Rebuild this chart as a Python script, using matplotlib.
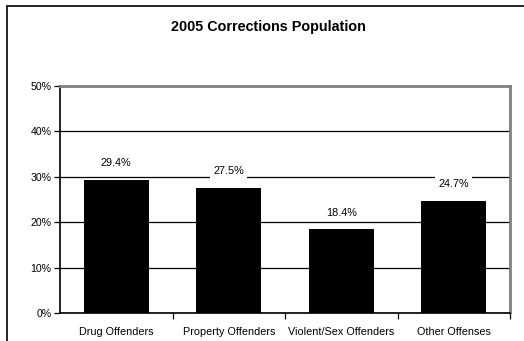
import matplotlib
matplotlib.use("Agg")
import matplotlib.pyplot as plt
from matplotlib.patches import Rectangle
from matplotlib.ticker import FixedLocator, NullFormatter

categories = ["Drug Offenders", "Property Offenders", "Violent/Sex Offenders", "Other Offenses"]
values = [29.4, 27.5, 18.4, 24.7]
value_labels = ["29.4%", "27.5%", "18.4%", "24.7%"]
yticks = [0, 10, 20, 30, 40, 50]
ytick_labels = ["0%", "10%", "20%", "30%", "40%", "50%"]
title = "2005 Corrections Population"

plt.rcParams['font.family'] = ['Liberation Sans', 'DejaVu Sans']

W, H = 524, 341
fig = plt.figure(figsize=(W/100, H/100), dpi=100)
fig.patch.set_facecolor('white')

# outer chart border (extends beyond the right/bottom edge)
fig.patches.append(Rectangle((6.5/W, -0.1), 1.2, (H - 5.5)/H + 0.1, transform=fig.transFigure,
                             fill=False, edgecolor='black', linewidth=1.2, zorder=0))

ax = fig.add_axes([60/W, (H-313)/H, (510-60)/W, (313-86)/H])
x = list(range(len(categories)))
ax.bar(x, values, width=0.58, color='black', zorder=3)
ax.set_xlim(-0.5, len(categories) - 0.5)
ax.set_ylim(0, 50)

ax.set_yticks(yticks)
ax.set_yticklabels(ytick_labels, fontsize=7.6)
ax.yaxis.grid(True, color='black', linewidth=0.9, zorder=1)
ax.set_axisbelow(True)

ax.set_xticks(x)
ax.set_xticklabels(categories, fontsize=7.8)
ax.tick_params(axis='x', which='major', length=0, pad=10)
ax.xaxis.set_minor_locator(FixedLocator([i + 0.5 for i in x]))
ax.xaxis.set_minor_formatter(NullFormatter())
ax.tick_params(axis='x', which='minor', length=4, width=0.9, color='black')
ax.tick_params(axis='y', length=4, width=0.9, color='black', pad=2)

for sp in ['top', 'right']:
    ax.spines[sp].set_color('#808080')
    ax.spines[sp].set_linewidth(2)
for sp in ['left', 'bottom']:
    ax.spines[sp].set_color('black')
    ax.spines[sp].set_linewidth(1.2)

for xi, v, lab in zip(x, values, value_labels):
    ax.annotate(lab, (xi, v), xytext=(0, 12), textcoords='offset points',
                ha='center', va='center', fontsize=7.8, zorder=4,
                bbox=dict(boxstyle='square,pad=0.3', fc='white', ec='none'))

fig.text(268/W, (H-27)/H, title, ha='center', va='center', fontsize=10.4, fontweight='bold')

fig.savefig("out.png", dpi=100)
